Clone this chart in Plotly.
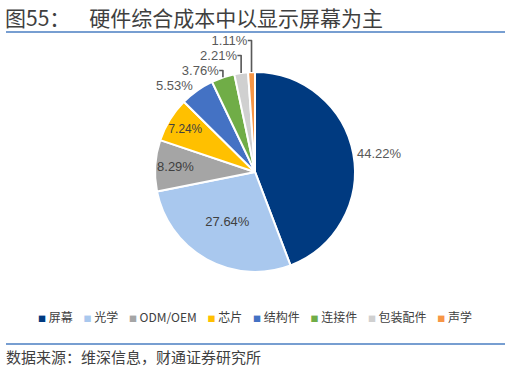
import plotly.graph_objects as go

categories = ["屏幕", "光学", "ODM/OEM", "芯片", "结构件", "连接件", "包装配件", "声学"]
values = [44.22, 27.64, 8.29, 7.24, 5.53, 3.76, 2.21, 1.11]
colors = ["#003A80", "#A9C8EE", "#A5A5A5", "#FFC000", "#4472C4", "#70AD47", "#D0D0D0", "#F79646"]
positions = ["outside", "inside", "inside", "inside", "outside", "outside", "outside", "outside"]

font_family = "Noto Sans CJK SC, Liberation Sans, Arial, sans-serif"
label_font = "Liberation Sans, Arial, sans-serif"

fig = go.Figure(go.Pie(
    labels=categories,
    values=values,
    sort=False,
    direction="clockwise",
    rotation=0,
    marker=dict(colors=colors, line=dict(color="white", width=2)),
    texttemplate="%{value:.2f}%",
    textposition=positions,
    insidetextorientation="horizontal",
    outsidetextfont=dict(size=13, color="#595959", family=label_font),
    insidetextfont=dict(size=13, color="#404040", family=label_font),
    domain=dict(x=[0.1, 0.9], y=[0.275, 0.808]),
    hoverinfo="label+percent",
    showlegend=False,
    automargin=False,
))

legend_text = "&nbsp;&nbsp;&nbsp;&nbsp;".join(
    f"<span style='color:{c};font-size:8px'>■</span> {n}" for n, c in zip(categories, colors)
)

fig.update_layout(
    width=510, height=375,
    autosize=False,
    margin=dict(l=0, r=0, t=0, b=0, pad=0, autoexpand=False),
    paper_bgcolor="white",
    plot_bgcolor="white",
    font=dict(family=font_family, color="#404040"),
    showlegend=False,
    annotations=[
        dict(text="图55：&nbsp;&nbsp;&nbsp;&nbsp;硬件综合成本中以显示屏幕为主", x=0.006, y=1 - 17 / 375,
             xref="paper", yref="paper", xanchor="left", yanchor="middle",
             showarrow=False, font=dict(size=21, color="#3F3F3F", family=font_family)),
        dict(text=legend_text, x=0.5, y=1 - 316 / 375,
             xref="paper", yref="paper", xanchor="center", yanchor="middle",
             showarrow=False, font=dict(size=12, color="#404040", family=font_family)),
        dict(text="数据来源：维深信息，财通证券研究所", x=0.008, y=1 - 356 / 375,
             xref="paper", yref="paper", xanchor="left", yanchor="middle",
             showarrow=False, font=dict(size=15, color="#404040", family=font_family)),
    ],
    shapes=[
        dict(type="line", xref="paper", yref="paper", x0=6 / 510, x1=505 / 510,
             y0=1 - 32 / 375, y1=1 - 32 / 375, line=dict(color="#4A7EC2", width=1.5)),
        dict(type="line", xref="paper", yref="paper", x0=6 / 510, x1=505 / 510,
             y0=1 - 344 / 375, y1=1 - 344 / 375, line=dict(color="#4A7EC2", width=1.5)),
    ],
)

fig.write_html("out.html", post_script="document.body.style.margin='0';",
               config={"displayModeBar": False})
